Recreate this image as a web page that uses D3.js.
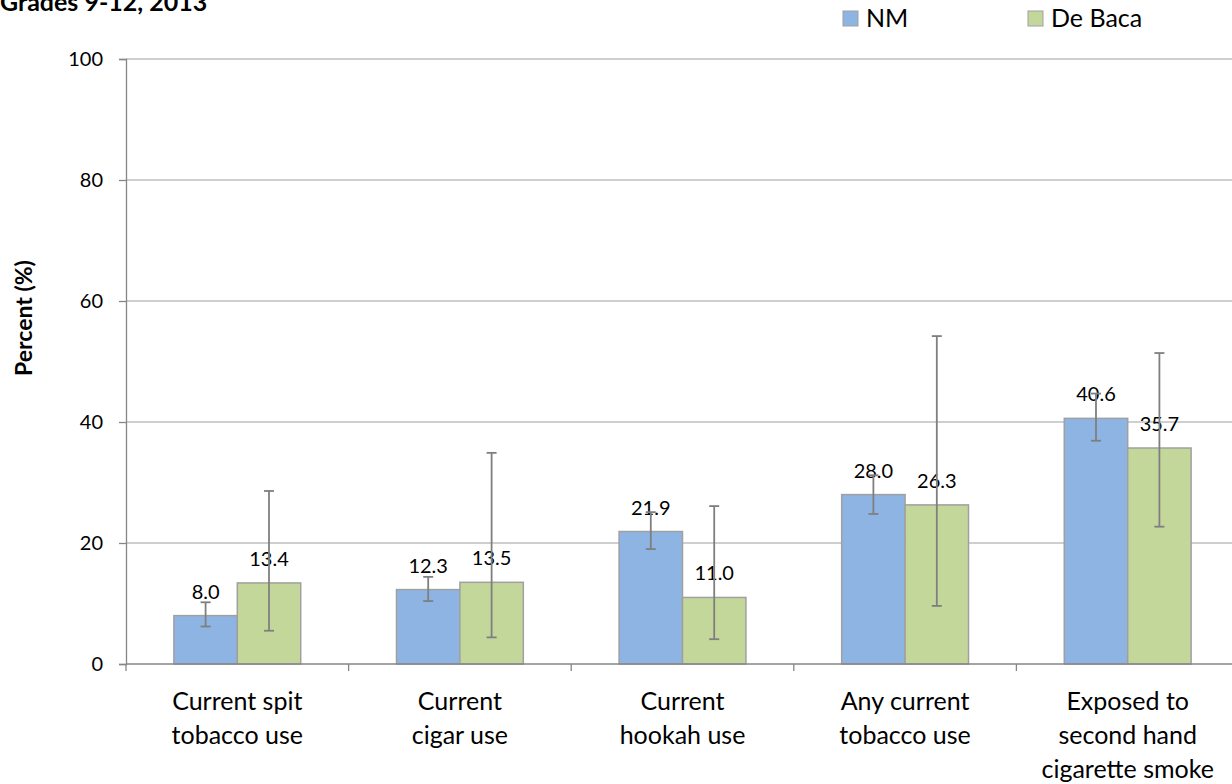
<!DOCTYPE html>
<html><head><meta charset="utf-8">
<script src="https://cdn.jsdelivr.net/npm/d3@7"></script>
<style>body{margin:0;background:#fff}svg{display:block}text{font-family:Lato,"Open Sans",sans-serif;fill:#000}</style>
</head><body><svg id="c" width="1232" height="784"></svg>
<script>
const categories = [["Current spit","tobacco use"],["Current","cigar use"],["Current","hookah use"],["Any current","tobacco use"],["Exposed to","second hand","cigarette smoke"]];
const seriesNames = ["NM","De Baca"];
const nmValues = [8.0, 12.3, 21.9, 28.0, 40.6];
const nmLow = [6.2, 10.4, 19.0, 24.8, 36.9];
const nmHigh = [10.2, 14.4, 25.1, 31.2, 44.7];
const dbValues = [13.4, 13.5, 11.0, 26.3, 35.7];
const dbLow = [5.5, 4.4, 4.1, 9.6, 22.7];
const dbHigh = [28.6, 34.9, 26.1, 54.2, 51.4];
const yTicks = [0,20,40,60,80,100];
const colors = ["#8EB4E3","#C4D79B"];

const svg = d3.select("#c");
const keys = categories.map((c,i)=>"c"+i);
const x0 = d3.scaleBand().domain(keys).range([126,1239]).padding(0);
const x1 = d3.scaleBand().domain(seriesNames).range([0,x0.bandwidth()]).paddingInner(0).paddingOuter(0.755);
const y = d3.scaleLinear().domain([0,100]).range([664,59]);

// gridlines
svg.append("g").selectAll("line").data(yTicks.filter(d=>d>0)).join("line")
  .attr("x1",126).attr("x2",1232).attr("y1",d=>y(d)).attr("y2",d=>y(d))
  .attr("stroke","#BFBFBF").attr("stroke-width",1.3);

// y axis
const ya = svg.append("g").attr("transform","translate(126,0)").call(d3.axisLeft(y).tickValues(yTicks).tickSize(7).tickPadding(16).tickFormat(d3.format("d")));
ya.select(".domain").attr("stroke","#868686").attr("stroke-width",1.3);
ya.selectAll(".tick line").attr("stroke","#868686").attr("stroke-width",1.3);
ya.selectAll(".tick text").style("font-size","20px").attr("fill","#000");

// bars
const series = [
  {name:"NM", vals:nmValues, lo:nmLow, hi:nmHigh},
  {name:"De Baca", vals:dbValues, lo:dbLow, hi:dbHigh}
];
series.forEach((s,si)=>{
  const g = svg.append("g");
  g.selectAll("rect").data(s.vals).join("rect")
    .attr("x",(d,i)=>x0(keys[i])+x1(s.name))
    .attr("width",x1.bandwidth())
    .attr("y",d=>y(d)).attr("height",d=>y(0)-y(d))
    .attr("fill",colors[si]).attr("stroke","#A0A0A0").attr("stroke-width",1.5);
});

// x axis
const xa = svg.append("g").attr("transform","translate(0,664)");
xa.append("line").attr("x1",126).attr("x2",1232).attr("y1",0).attr("y2",0).attr("stroke","#868686").attr("stroke-width",1.3);
xa.selectAll("line.t").data(keys.concat(["end"])).join("line").attr("class","t")
  .attr("x1",d=>d==="end"?1239:x0(d)).attr("x2",d=>d==="end"?1239:x0(d))
  .attr("y1",0).attr("y2",7).attr("stroke","#868686").attr("stroke-width",1.3);
categories.forEach((lines,i)=>{
  const t = xa.append("text").attr("text-anchor","middle").style("font-size","25px")
    .attr("x",x0(keys[i])+x0.bandwidth()/2);
  lines.forEach((ln,j)=>t.append("tspan").attr("x",x0(keys[i])+x0.bandwidth()/2).attr("y",46+j*34).text(ln));
});

// error bars + labels
series.forEach((s,si)=>{
  const g = svg.append("g");
  s.vals.forEach((v,i)=>{
    const cx = x0(keys[i])+x1(s.name)+x1.bandwidth()/2;
    g.append("text").attr("x",cx).attr("y",y(v)-17).attr("text-anchor","middle").style("font-size","20px").text(v.toFixed(1));
  });
  s.vals.forEach((v,i)=>{
    const cx = x0(keys[i])+x1(s.name)+x1.bandwidth()/2;
    const st = {"stroke":"#7F7F7F","stroke-width":1.8};
    g.append("line").attr("x1",cx).attr("x2",cx).attr("y1",y(s.lo[i])).attr("y2",y(s.hi[i])).attr("stroke",st.stroke).attr("stroke-width",st["stroke-width"]);
    [s.lo[i],s.hi[i]].forEach(e=>g.append("line").attr("x1",cx-5).attr("x2",cx+5).attr("y1",y(e)).attr("y2",y(e)).attr("stroke",st.stroke).attr("stroke-width",st["stroke-width"]));
  });
});

// y title
svg.append("text").attr("transform","translate(32,318) rotate(-90)").attr("text-anchor","middle")
  .style("font-size","23px").style("font-weight","bold").text("Percent (%)");

// chart title (partially cut)
svg.append("text").attr("x",0).attr("y",11).style("font-size","25px").style("font-weight","bold").text("Grades 9-12, 2013");

// legend
const lg = svg.append("g");
const lx = [843,1028];
seriesNames.forEach((n,i)=>{
  lg.append("rect").attr("x",lx[i]).attr("y",11).attr("width",15).attr("height",15).attr("fill",colors[i]).attr("stroke","#A0A0A0").attr("stroke-width",1);
  lg.append("text").attr("x",lx[i]+23).attr("y",27).style("font-size","25px").text(n);
});
</script></body></html>
